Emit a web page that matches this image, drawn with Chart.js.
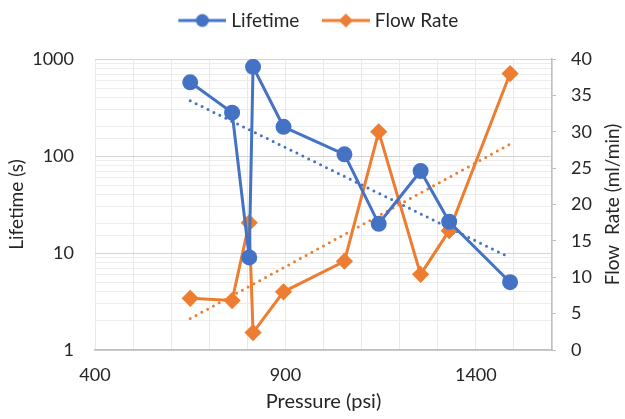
<!DOCTYPE html>
<html>
<head>
<meta charset="utf-8">
<script src="https://cdn.jsdelivr.net/npm/chart.js@4.4.1/dist/chart.umd.min.js"></script>
<style>
  html, body { margin: 0; padding: 0; background: #fff; }
  #wrap { width: 625px; height: 419px; }
</style>
</head>
<body>
<div id="wrap"><canvas id="pressureChart"></canvas></div>
<script>
// Data
const pressure = [650, 760, 805, 815, 895, 1055, 1145, 1255, 1330, 1490];
const lifetime = [575, 280, 9, 830, 200, 104, 20, 70, 21, 5];
const flowRate = [7.1, 6.8, 17.5, 2.4, 8.0, 12.2, 30.0, 10.4, 16.4, 38.0];
const xTickLabels = [400, 900, 1400];
const lifetimeTickLabels = [1, 10, 100, 1000];

const BLUE = '#4472C4';
const ORANGE = '#ED7D31';
const TEXT = '#262626';
const FONT = 'Lato';

// least squares line, returns f(x)
function linearFit(xs, ys) {
    const n = xs.length;
    const mx = xs.reduce((a, b) => a + b, 0) / n;
    const my = ys.reduce((a, b) => a + b, 0) / n;
    let sxy = 0, sxx = 0;
    for (let i = 0; i < n; i++) {
        sxy += (xs[i] - mx) * (ys[i] - my);
        sxx += (xs[i] - mx) * (xs[i] - mx);
    }
    const slope = sxy / sxx;
    return x => my + slope * (x - mx);
}

// Excel style trendlines: exponential for lifetime, linear for flow rate
const xMin = Math.min(...pressure);
const xMax = Math.max(...pressure);
const lifeFit = linearFit(pressure, lifetime.map(Math.log));
const flowFit = linearFit(pressure, flowRate);
const lifeTrend = [xMin, xMax].map(x => ({ x: x, y: Math.exp(lifeFit(x)) }));
const flowTrend = [xMin, xMax].map(x => ({ x: x, y: flowFit(x) }));

// legend swatch: line with marker, empty space on the left to spread the items
function legendIcon(color, style) {
    const c = document.createElement('canvas');
    c.width = 64;
    c.height = 16;
    const g = c.getContext('2d');
    g.strokeStyle = color;
    g.lineWidth = 3;
    g.beginPath();
    g.moveTo(16, 8);
    g.lineTo(64, 8);
    g.stroke();
    g.fillStyle = color;
    g.beginPath();
    if (style === 'circle') {
        g.arc(40, 8, 6.5, 0, Math.PI * 2);
    } else {
        g.moveTo(33, 8); g.lineTo(40, 1); g.lineTo(47, 8); g.lineTo(40, 15);
        g.closePath();
    }
    g.fill();
    return c;
}
const legendIcons = [legendIcon(BLUE, 'circle'), legendIcon(ORANGE, 'diamond')];

// right axis title reads bottom to top, like the left one
const rightTitle = {
    id: 'rightTitle',
    afterDraw(chart) {
        const ctx = chart.ctx;
        const y1 = chart.scales.y1;
        ctx.save();
        ctx.translate(y1.right - 12, (chart.chartArea.top + chart.chartArea.bottom) / 2);
        ctx.rotate(-Math.PI / 2);
        ctx.font = '19px ' + FONT;
        ctx.fillStyle = TEXT;
        ctx.textAlign = 'center';
        ctx.textBaseline = 'middle';
        ctx.fillText('Flow  Rate (ml/min)', 0, 0);
        ctx.restore();
    }
};

// push the plot down below the legend
const legendGap = {
    id: 'legendGap',
    beforeInit(chart) {
        const fit = chart.legend.fit;
        chart.legend.fit = function () {
            fit.bind(chart.legend)();
            this.height += 19;
        };
    }
};

const ctx = document.getElementById('pressureChart').getContext('2d');

new Chart(ctx, {
    type: 'scatter',
    data: {
        datasets: [
            {
                label: 'Lifetime',
                data: pressure.map((p, i) => ({ x: p, y: lifetime[i] })),
                yAxisID: 'y',
                showLine: true,
                borderColor: BLUE,
                backgroundColor: BLUE,
                borderWidth: 3,
                pointStyle: 'circle',
                pointRadius: 6.5,
                pointHoverRadius: 6.5
            },
            {
                label: 'Flow Rate',
                data: pressure.map((p, i) => ({ x: p, y: flowRate[i] })),
                yAxisID: 'y1',
                showLine: true,
                borderColor: ORANGE,
                backgroundColor: ORANGE,
                borderWidth: 3,
                pointStyle: 'rectRot',
                pointRadius: 6.5,
                pointHoverRadius: 6.5
            },
            {
                label: 'trend-life',
                data: lifeTrend,
                yAxisID: 'y',
                showLine: true,
                borderColor: BLUE,
                borderWidth: 3,
                borderDash: [0, 6.6],
                borderCapStyle: 'round',
                pointRadius: 0
            },
            {
                label: 'trend-flow',
                data: flowTrend,
                yAxisID: 'y1',
                showLine: true,
                borderColor: ORANGE,
                borderWidth: 3,
                borderDash: [0, 6.6],
                borderCapStyle: 'round',
                pointRadius: 0
            }
        ]
    },
    options: {
        responsive: true,
        maintainAspectRatio: false,
        animation: false,
        layout: { padding: { top: 0, left: 0, right: 0, bottom: 0 } },
        plugins: {
            tooltip: { enabled: false },
            legend: {
                position: 'top',
                labels: {
                    usePointStyle: true,
                    pointStyleWidth: 55,
                    padding: 11,
                    color: TEXT,
                    font: { family: FONT, size: 19 },
                    filter: item => item.datasetIndex < 2,
                    generateLabels(chart) {
                        const items = Chart.defaults.plugins.legend.labels.generateLabels(chart);
                        items.forEach(item => {
                            if (item.datasetIndex < 2) item.pointStyle = legendIcons[item.datasetIndex];
                        });
                        return items;
                    }
                }
            }
        },
        scales: {
            x: {
                type: 'linear',
                min: 400,
                max: 1600,
                afterFit(scale) { scale.height = 69; },
                ticks: {
                    stepSize: 100,
                    autoSkip: false,
                    maxRotation: 0,
                    padding: 14,
                    color: TEXT,
                    font: { family: FONT, size: 18 },
                    callback: value => xTickLabels.includes(value) ? value : ''
                },
                grid: { color: '#e9e9e9', drawTicks: false },
                border: { color: '#bfbfbf', width: 1.5 },
                title: {
                    display: true,
                    text: 'Pressure (psi)',
                    color: TEXT,
                    font: { family: FONT, size: 20 },
                    padding: { top: 0, bottom: 5 }
                }
            },
            y: {
                type: 'logarithmic',
                position: 'left',
                min: 1,
                max: 1000,
                afterFit(scale) { scale.width = 95; },
                ticks: {
                    autoSkip: false,
                    padding: 21,
                    color: TEXT,
                    font: { family: FONT, size: 18 },
                    callback: value => lifetimeTickLabels.includes(value) ? String(value) : ''
                },
                grid: {
                    drawTicks: false,
                    color: c => (c.tick && lifetimeTickLabels.includes(c.tick.value)) ? '#d4d4d4' : '#ededed'
                },
                border: { display: false },
                title: {
                    display: true,
                    text: 'Lifetime (s)',
                    color: TEXT,
                    font: { family: FONT, size: 19 },
                    padding: { top: 5, bottom: 0 }
                }
            },
            y1: {
                type: 'linear',
                position: 'right',
                min: 0,
                max: 40,
                afterFit(scale) { scale.width = 73; },
                ticks: {
                    stepSize: 5,
                    padding: 15,
                    color: TEXT,
                    font: { family: FONT, size: 18 }
                },
                grid: { drawOnChartArea: false, drawTicks: true, tickLength: 4, tickColor: '#bfbfbf' },
                border: { color: '#bfbfbf', width: 1.5 }
            }
        }
    },
    plugins: [rightTitle, legendGap]
});
</script>
</body>
</html>
